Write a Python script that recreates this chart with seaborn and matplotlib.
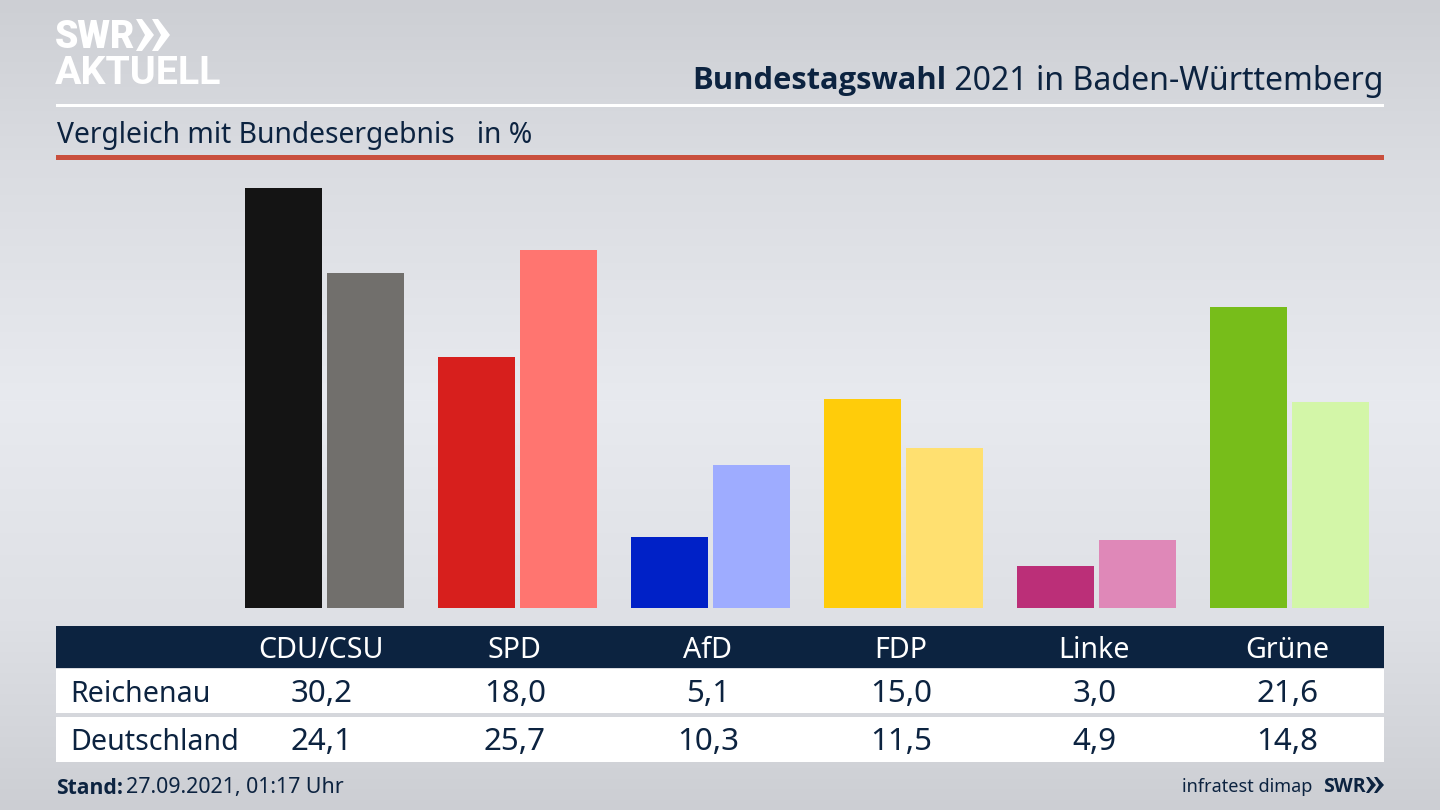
#!/usr/bin/env python3
"""Bundestagswahl 2021 bar comparison, Reichenau vs Deutschland"""

import matplotlib
matplotlib.use('Agg')
import matplotlib.pyplot as plt
from matplotlib.patches import Polygon, Rectangle
import numpy as np
import pandas as pd
import seaborn as sns

parties = ['CDU/CSU', 'SPD', 'AfD', 'FDP', 'Linke', 'Grüne']
reichenau = [30.2, 18.0, 5.1, 15.0, 3.0, 21.6]
deutschland = [24.1, 25.7, 10.3, 11.5, 4.9, 14.8]
colors_reichenau = ['#141414', '#d71f1d', '#0021c7', '#ffcc0a', '#bb2f78', '#77bd1a']
colors_deutschland = ['#716f6c', '#ff7570', '#9eacff', '#ffe070', '#df88b8', '#d3f6a8']

NAVY = '#0c2340'
BOLD = ['Open Sans', 'DejaVu Sans']
LOGO = ['Roboto', 'DejaVu Sans']

sns.set_theme(style='white')
plt.rcParams['font.family'] = ['Noto Sans', 'DejaVu Sans']


def fmt(value):
    return f'{value:.1f}'.replace('.', ',')


df = pd.DataFrame({
    'party': parties * 2,
    'value': reichenau + deutschland,
    'area': ['Reichenau'] * 6 + ['Deutschland'] * 6,
})

fig = plt.figure(figsize=(14.4, 8.1), dpi=100)

# background gradient, light band in the middle
bg = fig.add_axes([0, 0, 1, 1], zorder=0)
stops_y = [0, 160, 400, 620, 810]
stops_v = [205, 218, 232, 222, 204]
shade = np.interp(np.arange(810), stops_y, stops_v)
gradient = np.stack([shade, shade + 2, shade + 7], axis=1)[:, None, :] / 255
bg.imshow(np.clip(gradient, 0, 1), aspect='auto', extent=(0, 1440, 810, 0))
bg.set_xlim(0, 1440)
bg.set_ylim(810, 0)
bg.axis('off')

# bars, axes spans x 56-1384 and y 160-608 in pixels
ax = fig.add_axes([56 / 1440, (810 - 608) / 810, 1328 / 1440, 448 / 810], zorder=1)
ax.patch.set_alpha(0)
sns.barplot(data=df, x='party', y='value', hue='area', order=parties,
            hue_order=['Reichenau', 'Deutschland'], width=0.85, gap=0.06,
            saturation=1, legend=False, linewidth=0, ax=ax)
for patch, color in zip(ax.patches, colors_reichenau + colors_deutschland):
    patch.set_facecolor(color)
    patch.set_edgecolor('none')
ax.set_xlim((56 - 324.7) / 193, (1384 - 324.7) / 193)
ax.set_ylim(0, 448 / 13.92)
ax.axis('off')

# everything else in pixel coordinates
top = fig.add_axes([0, 0, 1, 1], zorder=2)
top.set_xlim(0, 1440)
top.set_ylim(810, 0)
top.axis('off')

# logo
top.text(55, 38, 'SWR', fontsize=27, fontweight='black', color='white',
         family=LOGO, ha='left', va='center')
for x0 in (136, 152):
    top.add_patch(Polygon([(x0, 19), (x0 + 6, 19), (x0 + 18, 35), (x0 + 6, 51),
                           (x0, 51), (x0 + 9, 35)], closed=True, color='white', lw=0))
top.text(55, 74, 'AKTUELL', fontsize=28.4, fontweight='bold', color='white',
         family=LOGO, ha='left', va='center')

# header
title = top.text(1383, 81, ' 2021 in Baden-Württemberg', fontsize=23.05, color=NAVY,
                 ha='right', va='center')
fig.canvas.draw()
bbox = title.get_window_extent().transformed(top.transData.inverted())
top.text(bbox.x0 + 1, 81, 'Bundestagswahl', fontsize=22.2, fontweight='bold', color=NAVY,
         family=BOLD, ha='right', va='center')
top.add_patch(Rectangle((56, 104), 1328, 3, color='white', lw=0))
top.text(57, 135, 'Vergleich mit Bundesergebnis   in %', fontsize=20.35, color=NAVY,
         ha='left', va='center')
top.add_patch(Rectangle((56, 155), 1328, 5, color='#c94f3d', lw=0))

# table
top.add_patch(Rectangle((56, 626), 1328, 42, color=NAVY, lw=0))
top.add_patch(Rectangle((56, 669), 1328, 44, color='white', lw=0))
top.add_patch(Rectangle((56, 717), 1328, 45, color='white', lw=0))
for i, party in enumerate(parties):
    cx = 321.5 + 193.2 * i
    top.text(cx, 650, party, fontsize=20.6, color='white', ha='center', va='center')
    top.text(cx, 694, fmt(reichenau[i]), fontsize=22.5, color=NAVY, ha='center', va='center')
    top.text(cx, 742, fmt(deutschland[i]), fontsize=22.5, color=NAVY, ha='center', va='center')
top.text(70, 694, 'Reichenau', fontsize=20.6, color=NAVY, ha='left', va='center')
top.text(70, 742, 'Deutschland', fontsize=20.6, color=NAVY, ha='left', va='center')

# footer
top.text(56, 788, 'Stand:', fontsize=15.2, fontweight='bold', color=NAVY, family=BOLD,
         ha='left', va='center')
top.text(126, 788, '27.09.2021, 01:17 Uhr', fontsize=15.4, color=NAVY, ha='left', va='center')
top.text(1312, 787, 'infratest dimap', fontsize=13, color=NAVY, ha='right', va='center')
top.text(1323, 787, 'SWR', fontsize=14, fontweight='bold', color=NAVY,
         family=BOLD, ha='left', va='center')
for x0 in (1366, 1374):
    top.add_patch(Polygon([(x0, 777), (x0 + 3, 777), (x0 + 10, 785), (x0 + 3, 793),
                           (x0, 793), (x0 + 5, 785)], closed=True, color=NAVY, lw=0))

fig.savefig('out.png', dpi=100)
